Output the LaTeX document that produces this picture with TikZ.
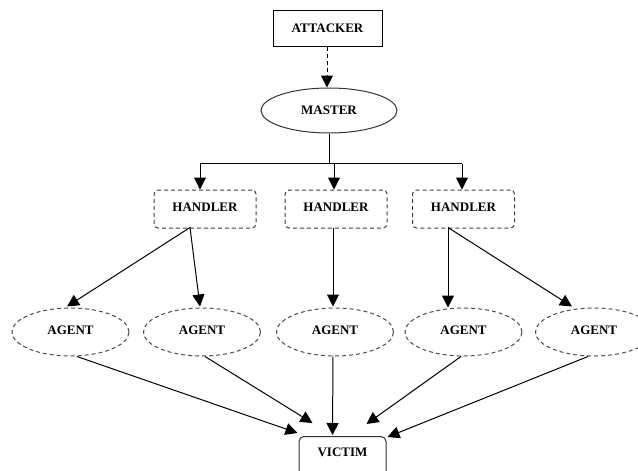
\documentclass[tikz,border=0pt]{standalone}
\usepackage{fontspec}
\setmainfont{Liberation Serif}
\usetikzlibrary{arrows.meta,calc,shapes.geometric}
\begin{document}
\begin{tikzpicture}[x=1pt,y=-1pt,
  every node/.style={font=\fontsize{13}{15}\selectfont\bfseries, inner sep=0pt},
  arr/.style={draw=black, line width=1pt, -{Triangle[length=12pt,width=12pt]}},
  dsh/.style={dash pattern=on 4pt off 3pt},
  solidbox/.style={draw=black, line width=1pt, rectangle, minimum width=109pt, minimum height=36pt},
  masterell/.style={draw=black!80, line width=1pt, ellipse, minimum width=136pt, minimum height=45pt},
  handlerbox/.style={draw=black!75, line width=1pt, dsh, rectangle, rounded corners=4pt, minimum width=102pt, minimum height=38pt, text depth=4pt},
  agentell/.style={draw=black!70, line width=1pt, dsh, ellipse, minimum width=117pt, minimum height=48pt, text depth=4pt},
  victimbox/.style={draw=black!80, line width=1pt, rectangle, rounded corners=5pt, minimum width=87pt, inner ysep=12pt, text height=8pt, text depth=26pt}
]
\useasboundingbox (0,0) rectangle (638,471);
\fill[white] (0,0) rectangle (638,471);

\node[solidbox] (att) at (327.5,28) {ATTACKER};
\node[masterell] (mas) at (329,110.5) {MASTER};
\node[handlerbox] (h1) at (205,209) {HANDLER};
\node[handlerbox] (h2) at (336,209) {HANDLER};
\node[handlerbox] (h3) at (463.5,209) {HANDLER};
\node[agentell] (a1) at (70.5,332) {AGENT};
\node[agentell] (a2) at (202,332) {AGENT};
\node[agentell] (a3) at (335,332) {AGENT};
\node[agentell] (a4) at (463.5,332) {AGENT};
\node[agentell] (a5) at (594,332) {AGENT};
\node[victimbox, anchor=north] (v) at (342.5,436) {VICTIM};

% attacker -> master
\draw[arr, dsh] ([xshift=-0.5pt]att.south) -- ([xshift=-2pt]mas.north);

% master -> handlers
\coordinate (split) at ($(mas.south)+(0,30)$);
\draw[line width=1pt] (mas.south) -- (split);
\draw[line width=1pt] ([xshift=-5pt]h1.north |- split) -- ([xshift=-1.5pt]h3.north |- split);
\draw[arr] ([xshift=-5pt]h1.north |- split) -- ([xshift=-5pt]h1.north);
\draw[arr] ([xshift=-2pt]h2.north |- split) -- ([xshift=-2pt]h2.north);
\draw[arr] ([xshift=-1.5pt]h3.north |- split) -- ([xshift=-1.5pt]h3.north);

% handlers -> agents
\draw[arr] ($(h1.south)+(-15,-1)$) -- ($(a1.north)+(-3.5,-1)$);
\draw[arr] ($(h1.south)+(-15,-1)$) -- ($(a2.north)+(-2,-1)$);
\draw[arr] ($(h2.south)+(-3,-1)$) -- ($(a3.north)+(-2,-1)$);
\draw[arr] ($(h3.south)+(-15.5,-1)$) -- ($(a4.north)+(-15.5,0)$);
\draw[arr] ($(h3.south)+(-15.5,-1)$) -- ($(a5.north)+(-22,-1)$);

% agents -> victim
\draw[arr] ($(a1.south)+(6.5,0)$) -- ($(v.north west)+(-1,-3)$);
\draw[arr] ($(a2.south)+(3,0)$) -- ($(v.north west)+(14,-13)$);
\draw[arr] ($(a3.south)+(-2,0)$) -- ($(v.north west)+(34,-1)$);
\draw[arr] ($(a4.south)+(-2.5,0)$) -- ($(v.north west)+(68,-12)$);
\draw[arr] ($(a5.south)+(-6,0)$) -- ($(v.north west)+(89,1)$);
\end{tikzpicture}
\end{document}
